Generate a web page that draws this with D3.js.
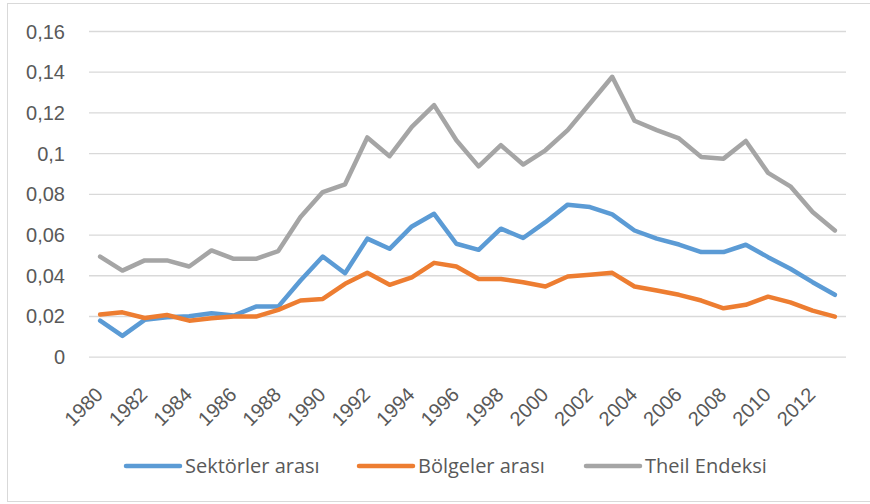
<!DOCTYPE html>
<html>
<head>
<meta charset="utf-8">
<script src="https://cdn.jsdelivr.net/npm/d3@7"></script>
<style>
  body { margin: 0; background: #fff; }
  svg { display: block; font-family: "Open Sans", sans-serif; }
</style>
</head>
<body>
<svg id="chart" width="870" height="504"></svg>
<script>
const years = d3.range(1980, 2014);
const sektorler = [0.0177, 0.0102, 0.0181, 0.0194, 0.0199, 0.0213, 0.0202, 0.0246, 0.0246, 0.0374,
  0.0492, 0.041, 0.058, 0.053, 0.064, 0.0702, 0.0555, 0.0525, 0.0629, 0.0583,
  0.0661, 0.0747, 0.0735, 0.0699, 0.062, 0.058, 0.0551, 0.0514, 0.0514, 0.055,
  0.0489, 0.0432, 0.0366, 0.0304];
const bolgeler = [0.0207, 0.0218, 0.019, 0.0205, 0.0177, 0.0189, 0.0197, 0.0197, 0.023, 0.0276,
  0.0284, 0.0358, 0.0412, 0.0353, 0.039, 0.0461, 0.0443, 0.0382, 0.0382, 0.0366,
  0.0345, 0.0394, 0.0402, 0.0412, 0.0345, 0.0325, 0.0304, 0.0276, 0.0238, 0.0255,
  0.0295, 0.0267, 0.0226, 0.0197];
const theil = [0.0492, 0.0423, 0.0473, 0.0473, 0.0443, 0.0522, 0.0481, 0.0481, 0.0519, 0.0686,
  0.0809, 0.0847, 0.1077, 0.0985, 0.1129, 0.1236, 0.1063, 0.0935, 0.1039, 0.0944,
  0.1014, 0.1113, 0.1244, 0.1375, 0.1159, 0.1113, 0.1072, 0.0981, 0.0973, 0.106,
  0.0903, 0.0837, 0.0711, 0.062];
const yTicks = [0, 0.02, 0.04, 0.06, 0.08, 0.1, 0.12, 0.14, 0.16];
const xTickYears = years.filter(y => y % 2 === 0);

const series = [
  { name: "Sektörler arası", values: sektorler, color: "#5B9BD5" },
  { name: "Bölgeler arası", values: bolgeler, color: "#ED7D31" },
  { name: "Theil Endeksi", values: theil, color: "#A5A5A5" }
];

const svg = d3.select("#chart");
const margin = { top: 31, right: 24, bottom: 148, left: 89 };
const width = 870, height = 504;

// chart border
svg.append("rect")
  .attr("x", 7.5).attr("y", 3.5)
  .attr("width", 870).attr("height", 498)
  .attr("fill", "none").attr("stroke", "#d9d9d9");

const x = d3.scaleBand()
  .domain(years)
  .range([margin.left, width - margin.right]);

const y = d3.scaleLinear()
  .domain([0, 0.16])
  .range([height - margin.bottom + 0.7, margin.top]);

const fmt = d => d3.format("")(+d.toFixed(2)).replace(".", ",");

// grid + y labels
const yAxis = svg.append("g")
  .attr("transform", `translate(${margin.left},0)`)
  .call(d3.axisLeft(y).tickValues(yTicks).tickSize(-(width - margin.left - margin.right)).tickFormat(fmt).tickPadding(24))
  .call(g => g.select(".domain").remove());
yAxis.selectAll(".tick line").attr("stroke", "#d9d9d9").attr("stroke-width", 1.3);
yAxis.selectAll(".tick text")
  .attr("fill", "#595959")
  .style("font-size", "20px")
  .attr("dy", "0.35em");

// x labels
const xAxis = svg.append("g")
  .attr("transform", `translate(0,${y(0)})`)
  .call(d3.axisBottom(x).tickValues(xTickYears).tickSize(0))
  .call(g => g.select(".domain").remove());
xAxis.selectAll(".tick text")
  .attr("fill", "#595959")
  .style("font-size", "20px")
  .attr("text-anchor", "end")
  .attr("transform", "translate(-3,32) rotate(-45)")
  .attr("dy", "0.35em");

const line = d3.line()
  .x((d, i) => x(years[i]) + x.bandwidth() / 2)
  .y(d => y(d));

svg.append("g").selectAll("path")
  .data(series)
  .join("path")
  .attr("d", d => line(d.values))
  .attr("fill", "none")
  .attr("stroke", d => d.color)
  .attr("stroke-width", 4.5)
  .attr("stroke-linejoin", "round")
  .attr("stroke-linecap", "round");

// legend
const legendX = [126, 359, 586];
const legend = svg.append("g").selectAll("g")
  .data(series)
  .join("g")
  .attr("transform", (d, i) => `translate(${legendX[i]},466)`);
legend.append("line")
  .attr("x1", 0).attr("x2", 54)
  .attr("stroke", d => d.color)
  .attr("stroke-width", 4.5)
  .attr("stroke-linecap", "round");
legend.append("text")
  .attr("x", 59)
  .attr("dy", "0.35em")
  .attr("fill", "#595959")
  .style("font-size", "20px")
  .text(d => d.name);
</script>
</body>
</html>
